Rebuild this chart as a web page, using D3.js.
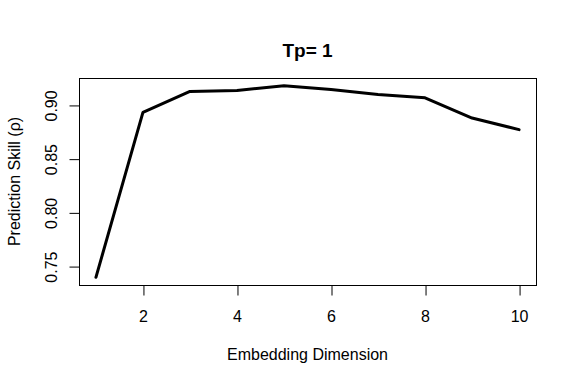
<!DOCTYPE html>
<html><head><meta charset="utf-8">
<script src="https://cdn.jsdelivr.net/npm/d3@7"></script>
<style>
body{margin:0;background:#fff;}
text{font-family:"Liberation Sans",Arial,Helvetica,sans-serif;fill:#000;}
</style></head>
<body>
<svg id="c" width="576" height="384"></svg>
<script>
const embedDims = [1,2,3,4,5,6,7,8,9,10];
const rhoValues = [0.740,0.8935,0.913,0.9139,0.9184,0.9148,0.9102,0.9071,0.8883,0.8775];
const xTicks = [2,4,6,8,10];
const yTicks = [0.75,0.80,0.85,0.90];
const titleText = "Tp= 1";
const xLabel = "Embedding Dimension";
const yLabel = "Prediction Skill (\u03c1)";

const svg = d3.select("#c");
const L=79, R=536, T=78, B=285;
const xPad = (d3.max(embedDims)-d3.min(embedDims))*0.04;
const x = d3.scaleLinear().domain([d3.min(embedDims)-xPad, d3.max(embedDims)+xPad]).range([L,R]);
const [ymin,ymax] = d3.extent(rhoValues);
const yPad = (ymax-ymin)*0.04;
const y = d3.scaleLinear().domain([ymin-yPad, ymax+yPad]).range([B,T]);

// box
svg.append("rect").attr("x",L+0.5).attr("y",T+0.5).attr("width",R-L).attr("height",B-T)
  .attr("fill","none").attr("stroke","#000").attr("stroke-width",1);

// x axis
const xa = svg.append("g").attr("transform",`translate(0,${B+0.5})`)
  .call(d3.axisBottom(x).tickValues(xTicks).tickSize(10).tickPadding(0).tickFormat(d3.format("d")));
xa.select(".domain").remove();
xa.selectAll(".tick line").attr("stroke","#000").attr("transform","translate(0.5,0)");
xa.selectAll(".tick text").attr("y",31).attr("dy",null).attr("dominant-baseline","central")
  .style("font-size","16px").style("font-family","Liberation Sans, Arial, sans-serif");

// y axis
const ya = svg.append("g").attr("transform",`translate(${L+0.5},0)`)
  .call(d3.axisLeft(y).tickValues(yTicks).tickSize(10).tickFormat(d3.format(".2f")));
ya.select(".domain").remove();
ya.selectAll(".tick line").attr("stroke","#000");
ya.selectAll(".tick text").attr("x",null).attr("dy",null)
  .attr("transform","translate(-28,0) rotate(-90)")
  .attr("text-anchor","middle").attr("dominant-baseline","central")
  .style("font-size","16px").style("font-family","Liberation Sans, Arial, sans-serif");

// line
const line = d3.line().x((d,i)=>x(embedDims[i])).y(d=>y(d));
svg.append("path").datum(rhoValues).attr("d",line)
  .attr("fill","none").attr("stroke","#000").attr("stroke-width",3)
  .attr("stroke-linejoin","round").attr("stroke-linecap","round");

// labels
svg.append("text").attr("x",(L+R)/2).attr("y",50).attr("text-anchor","middle")
  .attr("dominant-baseline","central").style("font-size","19px").style("font-weight","bold").text(titleText);
svg.append("text").attr("x",(L+R)/2).attr("y",354).attr("text-anchor","middle")
  .attr("dominant-baseline","central").style("font-size","16px").text(xLabel);
svg.append("text").attr("transform",`translate(14,${(T+B)/2}) rotate(-90)`).attr("text-anchor","middle")
  .attr("dominant-baseline","central").style("font-size","16px").text(yLabel);
</script>
</body></html>
